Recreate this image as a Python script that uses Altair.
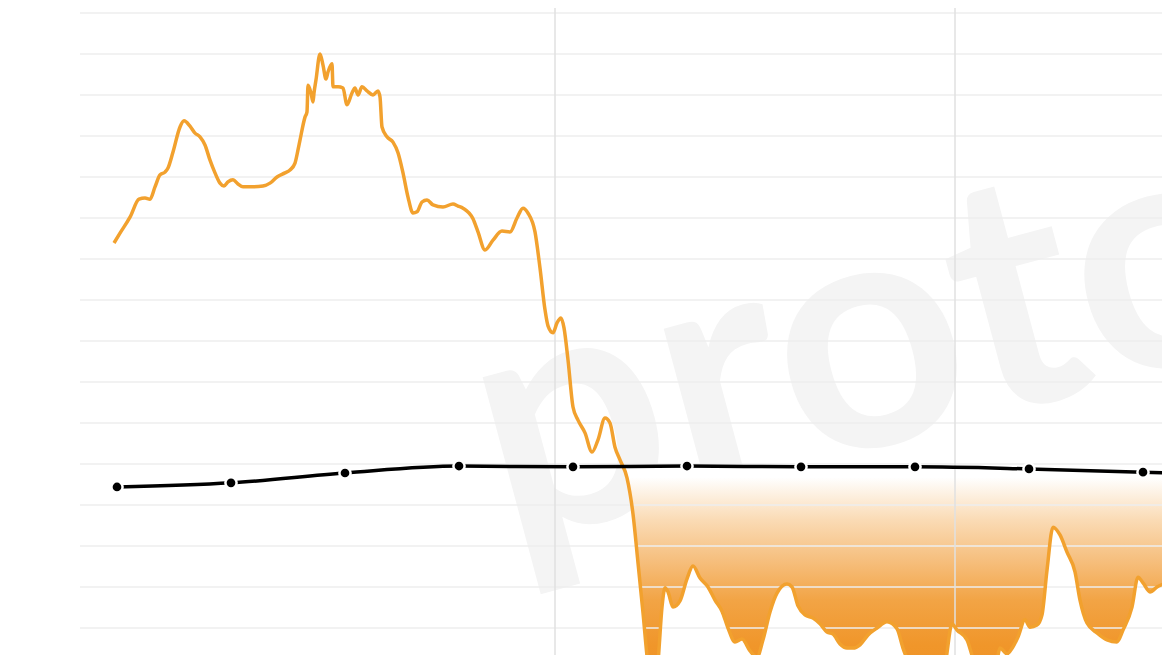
import altair as alt
import numpy as np
import pandas as pd

# Orange series (price), x in weeks relative to first vertical marker
price_t = [-110.25, -108.75, -106.25, -104, -102.5, -101.25, -100, -98.75, -97.5, -96.75,
           -95.5, -93.75, -92.75, -91.25, -90, -88.75, -87.5, -86.25, -85, -83.75,
           -82.75, -81.75, -80.5, -79.25, -78, -75.5, -73, -71.25, -69.5, -67.5,
           -66.25, -65, -64.25, -63.75, -62.5, -62, -61.75, -61, -60.5, -60.25,
           -59.75, -58.75, -58, -57.25, -56.75, -55.75, -55.5, -54.25, -53, -52,
           -50.75, -50, -49.25, -48.25, -47, -45.5, -44.25, -43.75, -43.25, -42,
           -40.5, -39.25, -38, -36.75, -35.5, -34.5, -33.25, -32, -30.5, -28,
           -25.5, -24.25, -23, -20.5, -19.25, -17.5, -15.5, -13.25, -11.25, -9.5,
           -8, -6.75, -5, -3.75, -2.5, -1.75, -0.5, 0.5, 1.5, 2.25,
           3.25, 4.5, 5.75, 7.5, 9.25, 10.75, 12.5, 13.75, 15, 16.25,
           18, 19.5, 20.75, 22, 23.25, 24.5, 25.75, 26.75, 27.5, 28.25,
           29.5, 31.25, 33, 34.5, 36.25, 38.25, 40, 41.75, 43.25, 45,
           46.75, 48.75, 50.5, 52, 53.75, 55.5, 58, 59.25, 60.75, 62.5,
           64.5, 66.25, 68, 69.5, 71.25, 73, 74.5, 76.25, 78.25, 80.5,
           83, 85.5, 87, 88.75, 91.25, 95, 97.5, 99.25, 100.5, 103,
           104.5, 106.25, 108.75, 110.5, 111.25, 113, 114.5, 115.75, 117.5, 118.75,
           120.5, 121.75, 123, 124.5, 126.25, 128, 130, 131.25, 133, 135.5,
           138, 140.5, 142, 144.25, 145.75, 147, 148.75, 150.5, 153, 154.25]
price_v = [10390, 10630, 11020, 11460, 11490, 11460, 11760, 12050, 12120, 12220,
           12610, 13220, 13370, 13240, 13070, 12980, 12780, 12410, 12100, 11850,
           11780, 11880, 11930, 11830, 11760, 11760, 11780, 11850, 12000, 12100,
           12170, 12340, 12660, 12900, 13460, 13590, 14240, 14050, 13830, 14050,
           14370, 15000, 14730, 14390, 14560, 14760, 14200, 14200, 14170, 13760,
           14050, 14170, 14000, 14200, 14100, 14000, 14100, 13950, 13220, 12980,
           12850, 12590, 12100, 11510, 11120, 11150, 11390, 11440, 11320, 11270,
           11340, 11290, 11240, 10980, 10660, 10220, 10460, 10680, 10660, 11000,
           11240, 11120, 10660, 9780, 8760, 8370, 8200, 8440, 8560, 8320,
           7540, 6390, 6070, 5760, 5290, 5590, 6120, 6000, 5410, 5100,
           4660, 3780, 2590, 1370, 100, -510, 170, 1510, 1980, 1880,
           1510, 1660, 2200, 2510, 2220, 2000, 1680, 1410, 1000, 660,
           730, 440, 290, 710, 1390, 1850, 2070, 2000, 1540, 1320,
           1240, 1100, 900, 850, 610, 510, 510, 590, 830, 1000,
           1150, 980, 510, 70, -390, -340, 100, 1100, 950, 710,
           270, -20, -70, 220, 510, 370, 540, 780, 1200, 1020,
           1070, 1320, 2410, 3460, 3270, 2850, 2370, 1680, 1120, 880,
           710, 660, 950, 1510, 2240, 2100, 1880, 2000, 2120, 2220]

# Black series (cost) with dot markers
cost_t = [-109.5, -81, -52.5, -24, 4.5, 33, 61.5, 90, 118.5, 147, 175.5]
cost_v = [4440, 4540, 4780, 4950, 4930, 4950, 4930, 4930, 4880, 4800, 4700]

grid_v = [1000, 2000, 3000, 4000, 5000, 6000, 7000, 8000, 9000, 10000,
          11000, 12000, 13000, 14000, 15000, 16000]
grid_t = [0, 100]
watermark = ["protos"]

price = pd.DataFrame({"t": price_t, "v": price_v})
price["cost"] = np.interp(price["t"], cost_t, cost_v)
price["low"] = np.minimum(price["v"], price["cost"])
cost = pd.DataFrame({"t": cost_t, "v": cost_v})

x_scale = alt.Scale(domain=[-118.75, 151.75], nice=False, zero=False)
y_scale = alt.Scale(domain=[341, 16122], nice=False, zero=False)
X = alt.X("t:Q", scale=x_scale, axis=None)
Y = alt.Y("v:Q", scale=y_scale, axis=None)

wm = alt.Chart(pd.DataFrame({"t": [-12], "v": [3000], "label": watermark})).mark_text(
    align="left", baseline="alphabetic", angle=345, fontSize=330, font="Lato",
    fontWeight="bold", color="#f4f4f4"
).encode(x=X, y=Y, text="label:N")

grad = alt.Gradient(
    gradient="linear",
    stops=[
        alt.GradientStop(color="#ffffff", offset=0),
        alt.GradientStop(color="#ffffff", offset=0.05),
        alt.GradientStop(color="#fadbb5", offset=0.24),
        alt.GradientStop(color="#f6bf7e", offset=0.42),
        alt.GradientStop(color="#f2a445", offset=0.6),
        alt.GradientStop(color="#f0962a", offset=0.8),
        alt.GradientStop(color="#ef9226", offset=1),
    ],
    x1=1, x2=1, y1=0, y2=1,
)
area = alt.Chart(price).mark_area(interpolate="monotone", clip=True, color=grad).encode(
    x=X, y=alt.Y("low:Q", scale=y_scale, axis=None), y2="cost:Q"
)

hgrid = alt.Chart(pd.DataFrame({"v": grid_v})).mark_rule(
    color="#eeeeee", strokeWidth=1.5
).encode(y=Y)
vgrid = alt.Chart(pd.DataFrame({"t": grid_t})).mark_rule(
    color="#e0e0e0", strokeWidth=1.5
).encode(x=X)

oline = alt.Chart(price).mark_line(
    color="#F2A12E", strokeWidth=3.5, interpolate="monotone", clip=True
).encode(x=X, y=Y)
cline = alt.Chart(cost).mark_line(
    color="#000000", strokeWidth=3.5, interpolate="monotone", clip=True
).encode(x=X, y=Y)
dots = alt.Chart(cost).mark_circle(
    size=125, fill="#000000", stroke="#ffffff", strokeWidth=2.5, opacity=1, clip=True
).encode(x=X, y=Y)

chart = alt.layer(wm, area, hgrid, vgrid, oline, cline, dots).properties(
    width=1082, height=647,
    padding={"left": 72, "top": 0, "right": 0, "bottom": 0},
    autosize="none",
).configure_view(strokeWidth=0)

chart.save("out.html", embed_options={"renderer": "svg", "actions": False})
